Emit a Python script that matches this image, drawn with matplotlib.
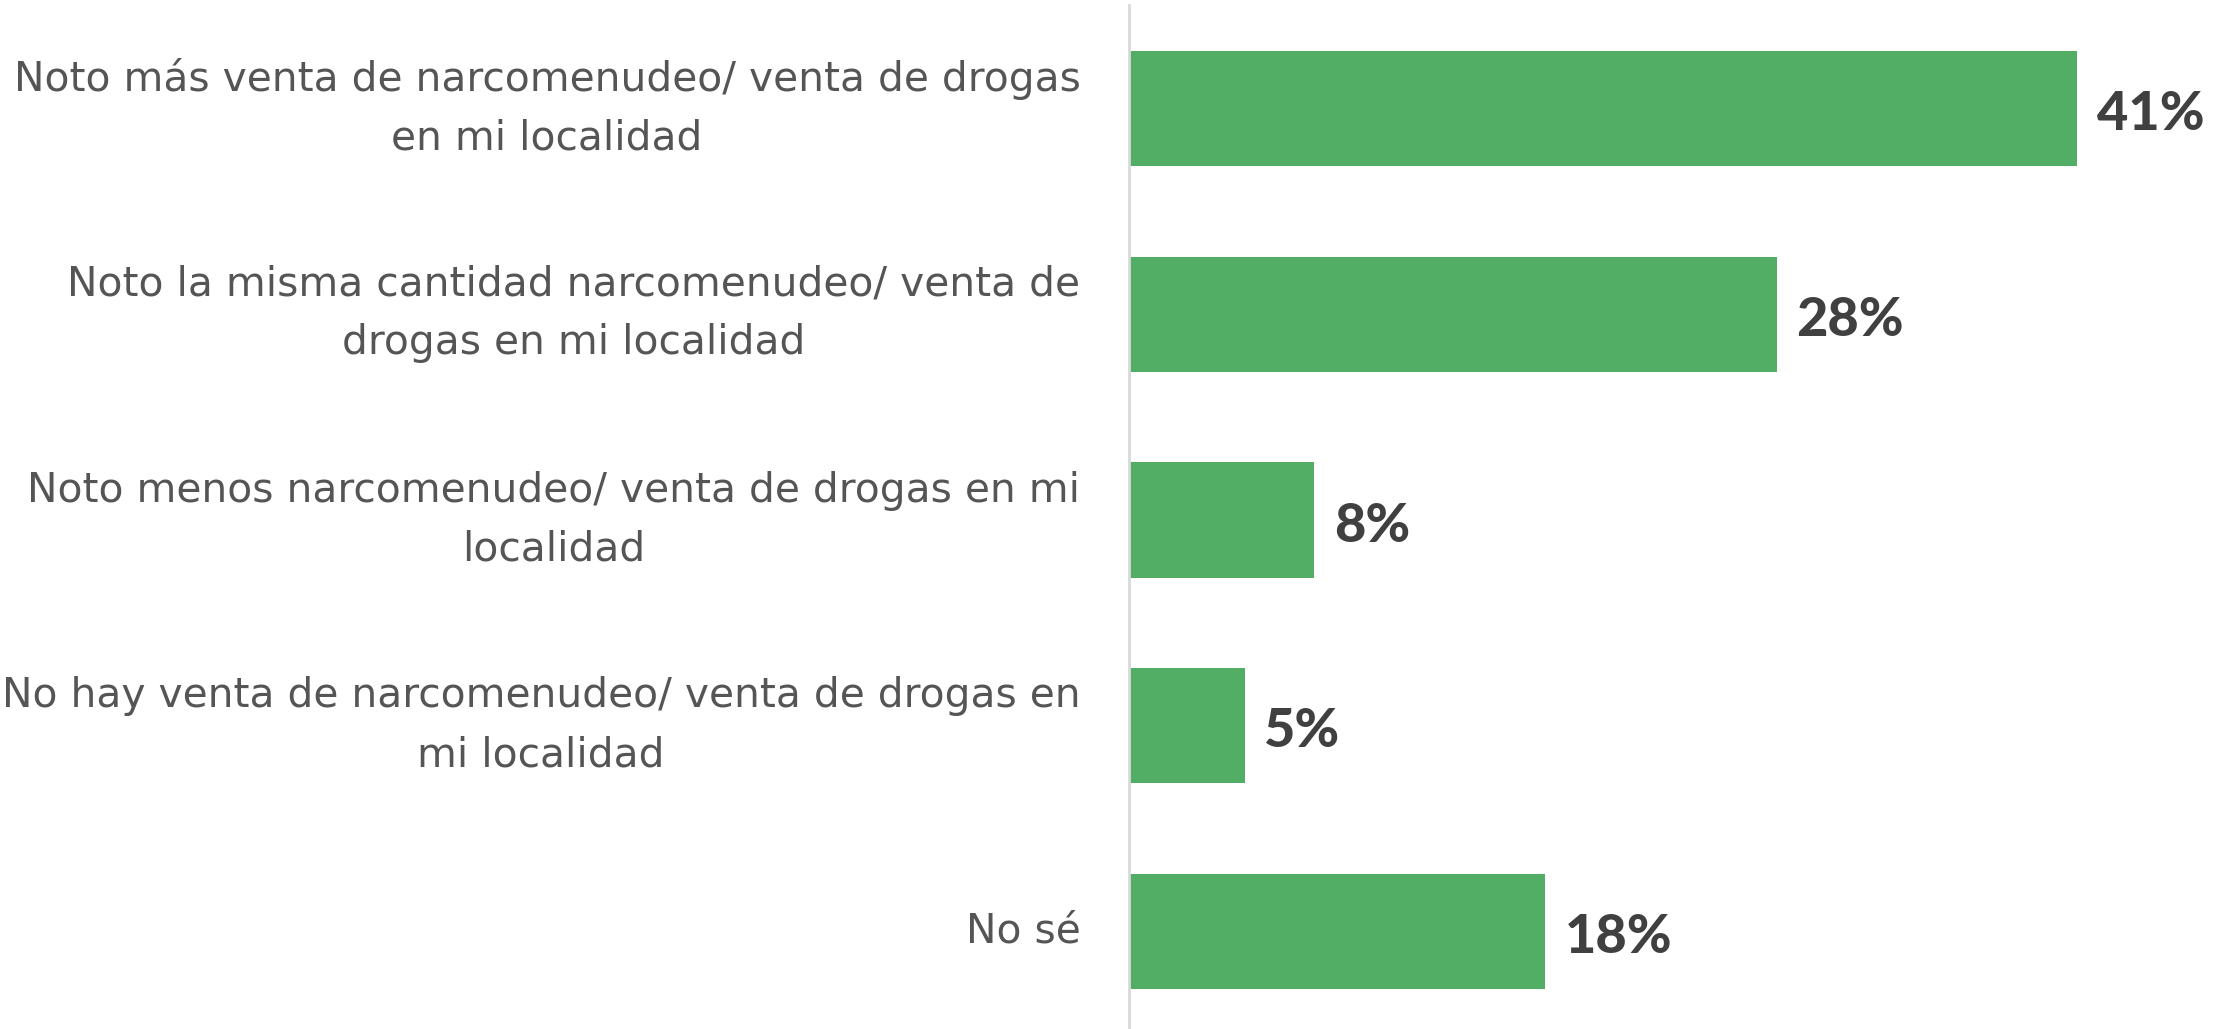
import matplotlib.pyplot as plt

categorias = [
    "Noto más venta de narcomenudeo/ venta de drogas\nen mi localidad",
    "Noto la misma cantidad narcomenudeo/ venta de\ndrogas en mi localidad",
    "Noto menos narcomenudeo/ venta de drogas en mi\nlocalidad",
    "No hay venta de narcomenudeo/ venta de drogas en\nmi localidad",
    "No sé",
]
valores = [41, 28, 8, 5, 18]

verde = '#52ae64'
gris_texto = '#555555'
gris_valor = '#404040'

fig = plt.figure(figsize=(22.21, 10.29), dpi=100)
ax = fig.add_axes([1129 / 2221, -0.0053, 1041 / 2221, 1.0])

ypos = list(range(len(categorias)))
ax.barh(ypos, valores, height=0.56, color=verde)

for y, v in zip(ypos, valores):
    ax.text(v + 0.85, y + 0.03, f"{v}%", va='center', ha='left',
            fontsize=39, fontweight='black', family='Lato', color=gris_valor)

for y, c in zip(ypos, categorias):
    ax.text(-2.1, y, c, va='center', ha='right', multialignment='center',
            fontsize=29.3, color=gris_texto, linespacing=1.6)

ax.set_xlim(0, 45)
ax.set_ylim(4.5, -0.5)
ax.set_xticks([])
ax.set_yticks([])
for s in ['top', 'right', 'bottom']:
    ax.spines[s].set_visible(False)
ax.spines['left'].set_color('#d9d9d9')
ax.spines['left'].set_linewidth(2)

fig.savefig('out.png', dpi=100)
